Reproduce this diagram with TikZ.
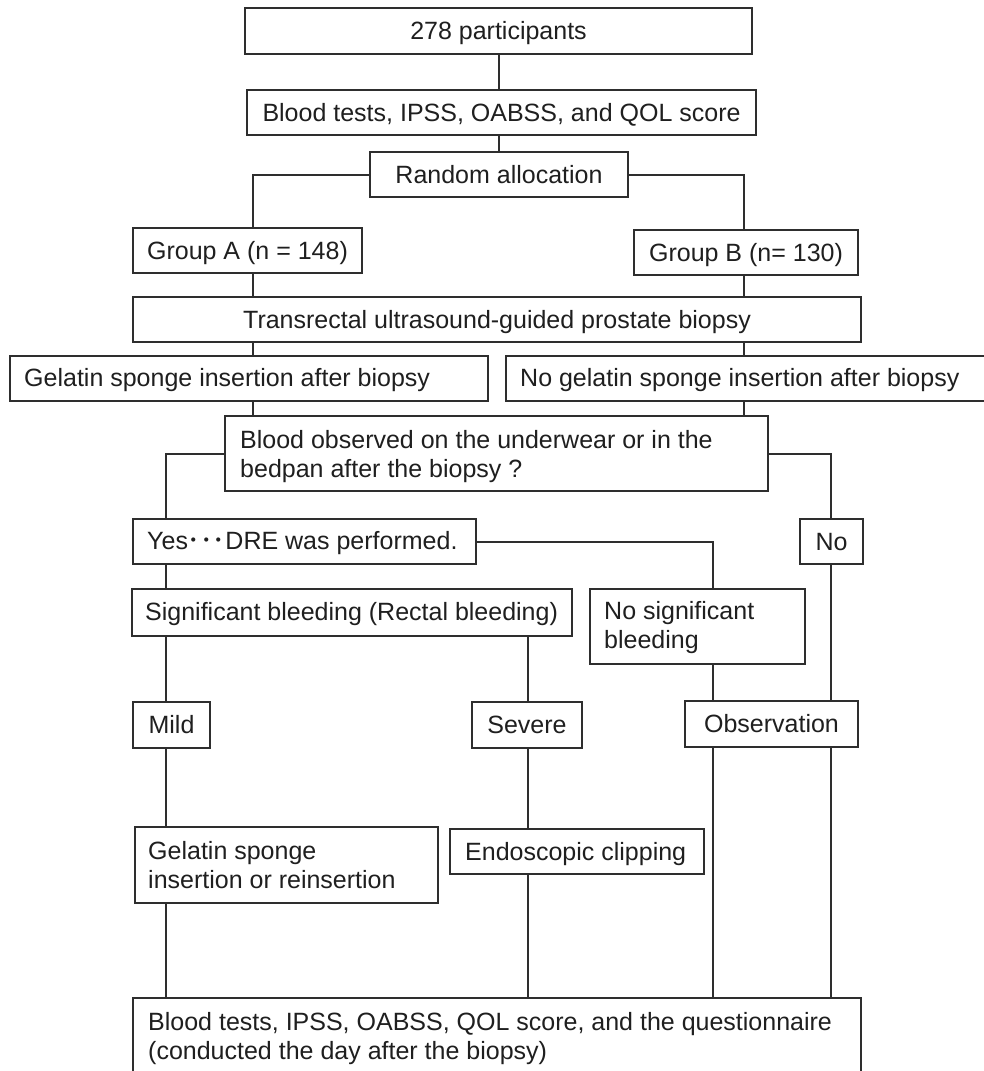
\documentclass[tikz,border=0pt]{standalone}
\usepackage{fontspec}
\setmainfont{Liberation Sans}
\newfontfamily\jpfont{Noto Sans CJK JP}
\begin{document}
\begin{tikzpicture}[x=1pt,y=-1pt,
  box/.style={draw=black!82, line width=2pt, inner sep=0pt, rectangle},
  ctext/.style={text=black!88, font=\fontsize{25}{29}\selectfont, text height=18pt, text depth=1pt},
  ltext/.style={text=black!88, font=\fontsize{25}{29}\selectfont, inner sep=0pt, anchor=base west},
  mtext/.style={text=black!88, font=\fontsize{25}{29}\selectfont, inner sep=0pt, anchor=north west, align=left},
  link/.style={draw=black!82, line width=2pt}]
\useasboundingbox (0,0) rectangle (984,1071);
\fill[white] (0,0) rectangle (984,1071);
\clip (0,0) rectangle (984,1071);

% columns
\coordinate (c0) at (499,0);
\coordinate (cA) at (253,0);
\coordinate (cB) at (744,0);
\coordinate (cY) at (166,0);
\coordinate (cN) at (831,0);
\coordinate (cNS) at (713,0);
\coordinate (cS) at (528,0);

% boxes
\node[box, ctext, minimum width=507pt, minimum height=46pt] (p1) at (498.5,31) {278 participants};
\node[box, ctext, minimum width=509pt, minimum height=45pt] (bt) at (501.5,112.5) {Blood tests, IPSS, OABSS, and QOL score};
\node[box, ctext, minimum width=258pt, minimum height=45pt] (ra) at (499,174.5) {Random allocation};
\node[box, ctext, minimum width=229pt, minimum height=45pt] (ga) at (247.5,250.5) {Group A (n = 148)};
\node[box, ctext, minimum width=224pt, minimum height=45pt] (gb) at (746,252.5) {Group B (n= 130)};
\node[box, ctext, minimum width=728pt, minimum height=45pt] (tr) at (497,319.5) {Transrectal ultrasound-guided prostate biopsy};
\node[box, minimum width=478pt, minimum height=45pt] (gel) at (249,378.5) {};
\node[box, minimum width=504pt, minimum height=45pt] (nogel) at (758,378.5) {};
\node[box, minimum width=543pt, minimum height=75pt] (bo) at (496.5,453.5) {};
\node[box, minimum width=343pt, minimum height=45pt] (yes) at (304.5,541.5) {};
\node[box, ctext, minimum width=63pt, minimum height=45pt] (no) at (831.5,541.5) {No};
\node[box, minimum width=440pt, minimum height=47pt] (sig) at (352,612.5) {};
\node[box, minimum width=215pt, minimum height=75pt] (ns) at (697.5,626.5) {};
\node[box, ctext, minimum width=77pt, minimum height=46pt] (mild) at (171.5,725) {Mild};
\node[box, ctext, minimum width=110pt, minimum height=46pt] (sev) at (527,725) {Severe};
\node[box, ctext, minimum width=173pt, minimum height=46pt] (obs) at (771.5,724) {Observation};
\node[box, minimum width=303pt, minimum height=76pt] (gel2) at (286.5,865) {};
\node[box, minimum width=254pt, minimum height=45pt] (endo) at (577,851.5) {};
\node[box, minimum width=728pt, minimum height=80pt] (fin) at (497,1038) {};

% left-aligned texts
\node[ltext] (tgel) at (24,386) {Gelatin sponge insertion after biopsy};
\node[ltext] (tnogel) at (520,386) {No gelatin sponge insertion after biopsy};
\node[ltext] (tyes) at (147,549.3) {Yes{\jpfont ･･･}DRE was performed.};
\node[ltext] (tsig) at (145,620.7) {Significant bleeding (Rectal bleeding)};
\node[ltext] (tendo) at (465,860) {Endoscopic clipping};
\node[mtext] (tbo) at (240,430.3) {Blood observed on the underwear or in the\\bedpan after the biopsy ?};
\node[mtext] (tns) at (604,601.3) {No significant\\bleeding};
\node[mtext] (tgel2) at (148,841.3) {Gelatin sponge\\insertion or reinsertion};
\node[mtext] (tfin) at (148,1012) {Blood tests, IPSS, OABSS, QOL score, and the questionnaire\\(conducted the day after the biopsy)};

% connectors
\draw[link] (p1.south -| c0) -- (bt.north -| c0);
\draw[link] (bt.south -| c0) -- (ra.north -| c0);
\draw[link] (ra.west) -| (ga.north -| cA);
\draw[link] (ra.east) -| (gb.north -| cB);
\draw[link] (ga.south -| cA) -- (tr.north -| cA);
\draw[link] (gb.south -| cB) -- (tr.north -| cB);
\draw[link] (tr.south -| cA) -- (gel.north -| cA);
\draw[link] (tr.south -| cB) -- (nogel.north -| cB);
\draw[link] (gel.south -| cA) -- (bo.north -| cA);
\draw[link] (nogel.south -| cB) -- (bo.north -| cB);
\draw[link] (bo.west) -| (yes.north -| cY);
\draw[link] (bo.east) -| (no.north -| cN);
\draw[link] (yes.east) -| (ns.north -| cNS);
\draw[link] (yes.south -| cY) -- (sig.north -| cY);
\draw[link] (sig.south -| cY) -- (mild.north -| cY);
\draw[link] (sig.south -| cS) -- (sev.north -| cS);
\draw[link] (ns.south -| cNS) -- (obs.north -| cNS);
\draw[link] (no.south -| cN) -- (obs.north -| cN);
\draw[link] (mild.south -| cY) -- (gel2.north -| cY);
\draw[link] (sev.south -| cS) -- (endo.north -| cS);
\draw[link] (gel2.south -| cY) -- (fin.north -| cY);
\draw[link] (endo.south -| cS) -- (fin.north -| cS);
\draw[link] (obs.south -| cNS) -- (fin.north -| cNS);
\draw[link] (obs.south -| cN) -- (fin.north -| cN);
\end{tikzpicture}
\end{document}
